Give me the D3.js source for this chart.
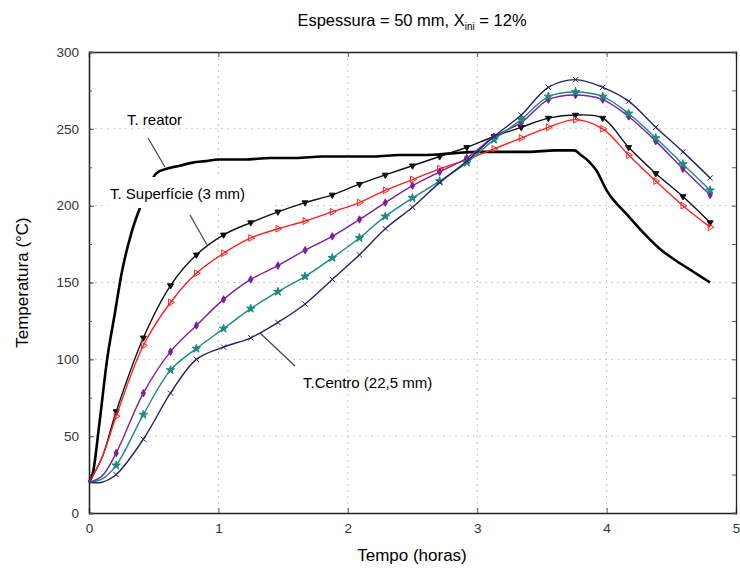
<!DOCTYPE html>
<html>
<head>
<meta charset="utf-8">
<script src="https://d3js.org/d3.v7.min.js"></script>
<style>
body { margin: 0; background: #fff; }
svg text { font-family: "Liberation Sans", Arial, sans-serif; }
</style>
</head>
<body>
<svg id="chart" width="740" height="574"></svg>
<script>
// marker times (hours), shared by the five probe series
var times = [0, 0.1, 0.21, 0.42, 0.63, 0.83, 1.04, 1.25, 1.46, 1.67, 1.88, 2.09, 2.29, 2.5, 2.71, 2.92, 3.13, 3.34, 3.55, 3.76, 3.97, 4.17, 4.38, 4.59, 4.8];

var surface = [20, 36, 66, 114, 148, 168, 181, 189, 196, 202, 207, 214, 220, 226, 232, 238, 245, 251, 257, 259, 257, 238, 221, 206, 189];
var redSeries = [20, 36, 63, 109, 137, 156, 169, 179, 185, 190, 196, 202, 210, 217, 224, 230, 237, 244, 251, 256, 250, 233, 216, 200, 186];
var purpleSeries = [20, 24, 39, 78, 105, 122, 139, 152, 161, 171, 180, 191, 202, 213, 222, 231, 245, 254, 269, 272, 269, 258, 242, 224, 207];
var tealSeries = [20, 22, 31, 64, 93, 107, 120, 133, 144, 154, 166, 179, 193, 205, 216, 228, 243, 256, 271, 274, 271, 260, 244, 227, 210];
var centre = [20, 20, 25, 48, 78, 100, 108, 114, 124, 136, 152, 168, 185, 199, 215, 229, 245, 259, 277, 282, 277, 268, 251, 235, 218];

// reactor temperature (no markers)
var reatorT = [0, 0.03, 0.08, 0.14, 0.2, 0.25, 0.33, 0.4, 0.47, 0.52, 0.6, 0.7, 0.8, 0.9, 1.0, 1.2, 1.4, 1.6, 1.8, 2.0, 2.2, 2.4, 2.6, 2.8, 3.0, 3.2, 3.4, 3.6, 3.75, 3.8, 3.86, 3.92, 4.0, 4.16, 4.3, 4.41, 4.54, 4.67, 4.8];
var reatorV = [20, 26, 58, 100, 130, 155, 183, 200, 214, 221, 224, 226, 228, 229, 230, 230, 231, 231, 232, 232, 232, 233, 233, 234, 235, 235, 235, 236, 236, 233, 229, 223, 210, 194, 181, 172, 164, 157, 150];

var xTicks = [0, 1, 2, 3, 4, 5];
var yTicks = [0, 50, 100, 150, 200, 250, 300];

var series = [
  {name: "surface", values: surface, color: "#111111", marker: "tri"},
  {name: "red", values: redSeries, color: "#ff2020", marker: "rtri"},
  {name: "purple", values: purpleSeries, color: "#7d1f9e", marker: "diamond"},
  {name: "teal", values: tealSeries, color: "#1f8a7e", marker: "star"},
  {name: "centre", values: centre, color: "#24236d", marker: "cross"}
];

var svg = d3.select("#chart");
var pLeft = 89, pRight = 736, pTop = 52, pBottom = 513;

var x = d3.scaleLinear().domain([0, 5]).range([pLeft, pRight]);
var y = d3.scaleLinear().domain([0, 300]).range([pBottom, pTop]);

// grid
svg.append("g").selectAll("line").data(xTicks.slice(1, -1)).enter().append("line")
  .attr("x1", d => x(d)).attr("x2", d => x(d)).attr("y1", pTop).attr("y2", pBottom)
  .attr("stroke", "#c8c8c8").attr("stroke-dasharray", "2,4");
svg.append("g").selectAll("line").data(yTicks.slice(1, -1)).enter().append("line")
  .attr("y1", d => y(d)).attr("y2", d => y(d)).attr("x1", pLeft).attr("x2", pRight)
  .attr("stroke", "#c8c8c8").attr("stroke-dasharray", "2,4");

// axes
var yMinor = d3.range(0, 301, 25);
svg.append("g").attr("transform", "translate(0," + pBottom + ")")
  .call(d3.axisBottom(x).tickValues(xTicks).tickSize(-5).tickPadding(10).tickFormat(d3.format("d")));
svg.append("g").attr("transform", "translate(0," + pTop + ")")
  .call(d3.axisTop(x).tickValues(xTicks).tickSize(-5).tickFormat(""));
svg.append("g").attr("transform", "translate(" + pLeft + ",0)")
  .call(d3.axisLeft(y).tickValues(yTicks).tickSize(-5).tickPadding(10));
svg.append("g").attr("transform", "translate(" + pLeft + ",0)")
  .call(d3.axisLeft(y).tickValues(yMinor).tickSize(-3).tickFormat(""));
svg.append("g").attr("transform", "translate(" + pRight + ",0)")
  .call(d3.axisRight(y).tickValues(yMinor).tickSize(-4).tickFormat(""));
svg.selectAll(".domain").attr("stroke", "#222").attr("stroke-width", 1.3);
svg.selectAll(".tick line").attr("stroke", "#555");
svg.selectAll(".tick text").attr("font-size", 13.5).attr("fill", "#333");

var line = d3.line().x(d => x(d[0])).y(d => y(d[1])).curve(d3.curveCatmullRom);
var smooth = d3.line().x(d => x(d[0])).y(d => y(d[1])).curve(d3.curveMonotoneX);

// reactor curve
svg.append("path")
  .attr("d", smooth(reatorT.map((t, i) => [t, reatorV[i]])))
  .attr("fill", "none").attr("stroke", "#000").attr("stroke-width", 2.6);

var sym = {
  tri: d3.symbol().type(d3.symbolTriangle).size(16),
  rtri: d3.symbol().type(d3.symbolTriangle).size(20),
  diamond: d3.symbol().type(d3.symbolDiamond).size(16),
  star: d3.symbol().type(d3.symbolStar).size(22),
  cross: d3.symbol().type(d3.symbolTimes).size(20)
};
var rot = {tri: 180, rtri: 90, diamond: 0, star: 0, cross: 0};

series.forEach(function(s) {
  var pts = times.map((t, i) => [t, s.values[i]]);
  svg.append("path").attr("d", line(pts))
    .attr("fill", "none").attr("stroke", s.color).attr("stroke-width", 1.4);
  svg.append("g").selectAll("path").data(pts.filter((p, i) => i > 1)).enter().append("path")
    .attr("d", sym[s.marker])
    .attr("transform", d => "translate(" + x(d[0]) + "," + y(d[1]) + ") rotate(" + rot[s.marker] + ")")
    .attr("fill", s.marker == "rtri" ? "none" : s.color)
    .attr("stroke", s.color).attr("stroke-width", 1);
});

// annotations
function pointer(x1, y1, x2, y2) {
  svg.append("line").attr("x1", x1).attr("y1", y1).attr("x2", x2).attr("y2", y2)
    .attr("stroke", "#444").attr("stroke-width", 1.2);
}
svg.append("rect").attr("x", 108).attr("y", 177).attr("width", 166).attr("height", 31).attr("fill", "#fff");
svg.append("text").attr("x", 127).attr("y", 125).attr("font-size", 15).text("T. reator");
svg.append("text").attr("x", 110).attr("y", 199).attr("font-size", 15).text("T. Superfície (3 mm)");
svg.append("text").attr("x", 303).attr("y", 388).attr("font-size", 15).text("T.Centro (22,5 mm)");
pointer(148, 138, 165, 167);
pointer(190, 215, 207, 245);
pointer(295, 366, 260, 333);

// title and axis labels
var title = svg.append("text").attr("x", 412).attr("y", 26).attr("text-anchor", "middle").attr("font-size", 16.5);
title.append("tspan").text("Espessura = 50 mm, X");
title.append("tspan").attr("font-size", 10).attr("dy", 4).text("ini");
title.append("tspan").attr("dy", -4).text(" = 12%");

svg.append("text").attr("x", 412).attr("y", 561).attr("text-anchor", "middle").attr("font-size", 17).text("Tempo (horas)");
svg.append("text").attr("transform", "translate(28," + (pTop + pBottom) / 2 + ") rotate(-90)")
  .attr("text-anchor", "middle").attr("font-size", 17).text("Temperatura (°C)");
</script>
</body>
</html>
